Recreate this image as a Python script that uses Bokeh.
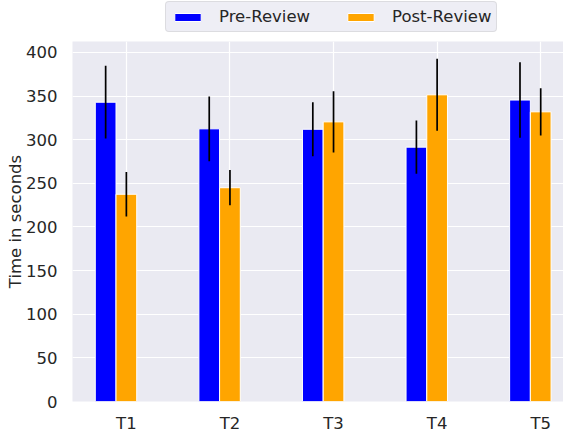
from bokeh.plotting import figure
from bokeh.layouts import column
from bokeh.models import ColumnDataSource, Legend, LegendItem, FixedTicker, Range1d
from bokeh.transform import dodge
from bokeh.embed import file_html
from bokeh.resources import INLINE

tasks = ["T1", "T2", "T3", "T4", "T5"]
pre_review = [343, 312.5, 312, 291.5, 345.5]
post_review = [237.5, 245, 320.5, 351.5, 332]
pre_err = [41.7, 37.2, 31, 30.5, 43.2]
post_err = [25.5, 20.2, 35.2, 41.2, 27]
y_ticks = [0, 50, 100, 150, 200, 250, 300, 350, 400]
series_names = ["Pre-Review", "Post-Review"]
series_colors = ["#0000FF", "#FFA500"]

idx = list(range(len(tasks)))
src = ColumnDataSource(dict(
    idx=idx,
    pre=pre_review,
    post=post_review,
    pre_lo=[v - e for v, e in zip(pre_review, pre_err)],
    pre_hi=[v + e for v, e in zip(pre_review, pre_err)],
    post_lo=[v - e for v, e in zip(post_review, post_err)],
    post_hi=[v + e for v, e in zip(post_review, post_err)],
))

FONT = "DejaVu Sans"
TXT = "#262626"

# ---- main chart ----
p = figure(width=563, height=394,
           x_range=Range1d(-0.52, 4.22), y_range=Range1d(0, 412.6),
           output_backend="svg", toolbar_location=None,
           min_border_left=72, min_border_right=0,
           min_border_top=0, min_border_bottom=28)
p.background_fill_color = "#EAEAF2"
p.border_fill_color = "white"
p.outline_line_color = None

p.vbar(x=dodge("idx", -0.2), top="pre", width=0.2, source=src,
       fill_color=series_colors[0], line_color="white", line_width=1)
p.vbar(x="idx", top="post", width=0.2, source=src,
       fill_color=series_colors[1], line_color="white", line_width=1)
p.segment(x0=dodge("idx", -0.2), x1=dodge("idx", -0.2), y0="pre_lo", y1="pre_hi",
          source=src, line_color="black", line_width=1.7)
p.segment(x0="idx", x1="idx", y0="post_lo", y1="post_hi",
          source=src, line_color="black", line_width=1.7)

p.xaxis.ticker = FixedTicker(ticks=idx)
p.xaxis.major_label_overrides = {i: t for i, t in zip(idx, tasks)}
p.yaxis.ticker = FixedTicker(ticks=y_ticks)
p.yaxis.axis_label = "Time in seconds"

for ax in (p.xaxis[0], p.yaxis[0]):
    ax.axis_line_color = None
    ax.major_tick_line_color = None
    ax.minor_tick_line_color = None
    ax.major_label_text_font = FONT
    ax.major_label_text_font_size = "16.5px"
    ax.major_label_text_color = TXT
    ax.axis_label_text_font = FONT
    ax.axis_label_text_font_size = "16.5px"
    ax.axis_label_text_font_style = "normal"
    ax.axis_label_text_color = TXT
p.xaxis.major_label_standoff = 6
p.yaxis.major_label_standoff = 9
p.yaxis.axis_label_standoff = -2

p.xgrid.grid_line_color = "white"
p.ygrid.grid_line_color = "white"
p.xgrid.grid_line_width = 1.2
p.ygrid.grid_line_width = 1.2

# ---- legend strip above the chart ----
top = figure(width=563, height=41, x_range=Range1d(0, 1), y_range=Range1d(0, 1),
             output_backend="svg", toolbar_location=None,
             min_border_left=0, min_border_right=0,
             min_border_top=0, min_border_bottom=0)
top.axis.visible = False
top.grid.visible = False
top.outline_line_color = None
top.background_fill_color = "white"
top.border_fill_color = "white"

items = []
for name, col in zip(series_names, series_colors):
    # off-screen proxy glyph so that the legend can draw its swatch
    r = top.vbar(x=[-10], top=[0], width=0.1, fill_color=col,
                 line_color="white", line_width=1)
    items.append(LegendItem(label=name, renderers=[r]))

legend = Legend(items=items, orientation="horizontal", location=(93, 9),
                margin=0, padding=5, spacing=34, glyph_width=33, glyph_height=10,
                label_standoff=15, label_height=19,
                label_text_font=FONT, label_text_font_size="16.5px",
                label_text_color=TXT,
                background_fill_color="#EAEAF2", background_fill_alpha=0.8,
                border_line_color="#CCCCCC", border_line_width=1,
                border_radius=4)
top.add_layout(legend, "center")

layout = column(top, p, spacing=0)
open("out.html", "w").write(file_html(layout, INLINE))
